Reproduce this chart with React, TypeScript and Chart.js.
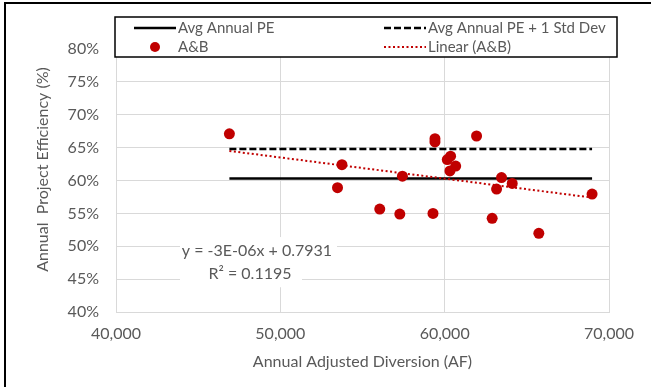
import { useEffect, useRef } from "react";
import { Chart, registerables } from "chart.js";

Chart.register(...registerables);

// ---- data ----
const diversionAF = [46900, 53750, 53480, 56050, 57270, 57430, 59290, 59410, 59410, 60160, 60360, 60320, 60670, 61940, 62890, 63160, 63460, 64110, 65730, 68970];
const efficiency = [0.671, 0.624, 0.589, 0.5565, 0.549, 0.6065, 0.55, 0.6636, 0.6586, 0.6318, 0.637, 0.6146, 0.622, 0.6677, 0.5424, 0.5869, 0.6045, 0.5955, 0.5197, 0.5793];
const lineX = [46900, 68970];
const avgPE = [0.603, 0.603];
const avgPlusSd = [0.648, 0.648];
const trendY = [0.645, 0.574];
const xTickValues = [40000, 50000, 60000, 70000];
const yTickValues = [0.4, 0.45, 0.5, 0.55, 0.6, 0.65, 0.7, 0.75, 0.8];
const seriesLabels = ["Avg Annual PE", "Avg Annual PE + 1 Std Dev", "A&B", "Linear (A&B)"];
const equationLines = ["y = -3E-06x + 0.7931", "R\u00B2 = 0.1195"];
const xTitle = "Annual Adjusted Diversion (AF)";
const yTitle = "Annual  Project Efficiency (%)";

const FONT = "Lato, 'Liberation Sans', sans-serif";
const TEXT = "#595959";
const GRID = "#d9d9d9";
const RED = "#c00000";

const toPts = (xs: number[], ys: number[]) => xs.map((x, i) => ({ x, y: ys[i] }));

const decorPlugin = {
  id: "decor",
  afterDraw(chart: any) {
    const ctx = chart.ctx as CanvasRenderingContext2D;
    const ys = chart.scales.y;
    ctx.save();
    // outer frame (top + left)
    ctx.strokeStyle = "#000";
    ctx.lineWidth = 2;
    ctx.beginPath();
    ctx.moveTo(5, 387);
    ctx.lineTo(5, 3);
    ctx.lineTo(651, 3);
    ctx.stroke();

    // y axis title
    ctx.save();
    ctx.translate(43, 169.5);
    ctx.rotate(-Math.PI / 2);
    ctx.font = `16px ${FONT}`;
    ctx.fillStyle = TEXT;
    ctx.textAlign = "center";
    ctx.textBaseline = "middle";
    ctx.fillText(yTitle, 0, 0);
    ctx.restore();

    // trendline equation label
    const y50 = ys.getPixelForValue(0.5);
    ctx.fillStyle = "#fff";
    ctx.fillRect(180, y50 - 9, 157, 25);
    ctx.fillRect(180, y50 - 9, 122, 50);
    ctx.font = `16px ${FONT}`;
    ctx.textAlign = "center";
    ctx.textBaseline = "middle";
    ctx.fillStyle = TEXT;
    ctx.fillText(equationLines[0], 257, y50 + 5);
    ctx.fillText(equationLines[1], 250, y50 + 28);

    // legend
    const lx0 = 115, ly0 = 17, lx1 = 617, ly1 = 57;
    ctx.fillStyle = "#fff";
    ctx.fillRect(lx0, ly0, lx1 - lx0, ly1 - ly0);
    ctx.strokeStyle = "#000";
    ctx.lineWidth = 1.5;
    ctx.strokeRect(lx0, ly0, lx1 - lx0, ly1 - ly0);
    const ds = chart.data.datasets;
    const items = [
      { ds: ds[0], x: 134, y: 28 },
      { ds: ds[1], x: 384, y: 28 },
      { ds: ds[2], x: 134, y: 47 },
      { ds: ds[3], x: 384, y: 47 },
    ];
    ctx.font = `15px ${FONT}`;
    ctx.textAlign = "left";
    ctx.textBaseline = "middle";
    for (const it of items) {
      const d = it.ds;
      if (d.showLine) {
        ctx.strokeStyle = d.borderColor;
        ctx.lineWidth = d.borderWidth;
        ctx.setLineDash(d.borderDash || []);
        ctx.beginPath();
        ctx.moveTo(it.x, it.y);
        ctx.lineTo(it.x + 42, it.y);
        ctx.stroke();
        ctx.setLineDash([]);
      } else {
        ctx.fillStyle = d.backgroundColor;
        ctx.beginPath();
        ctx.arc(it.x + 21, it.y, 5, 0, Math.PI * 2);
        ctx.fill();
      }
      ctx.fillStyle = TEXT;
      ctx.fillText(d.label, it.x + 44, it.y);
    }
    ctx.restore();
  },
};

export default function App() {
  const ref = useRef<HTMLCanvasElement>(null);
  useEffect(() => {
    document.body.style.margin = "0";
    const chart = new Chart(ref.current!, {
      type: "scatter",
      data: {
        datasets: [
          {
            label: seriesLabels[0],
            data: toPts(lineX, avgPE),
            showLine: true,
            borderColor: "#000",
            borderWidth: 2.5,
            pointRadius: 0,
            order: 3,
          },
          {
            label: seriesLabels[1],
            data: toPts(lineX, avgPlusSd),
            showLine: true,
            borderColor: "#000",
            borderWidth: 2.5,
            borderDash: [7, 3],
            pointRadius: 0,
            order: 2,
          },
          {
            label: seriesLabels[2],
            data: toPts(diversionAF, efficiency),
            showLine: false,
            backgroundColor: RED,
            borderColor: RED,
            borderWidth: 0,
            pointRadius: 5.5,
            order: 0,
          },
          {
            label: seriesLabels[3],
            data: toPts(lineX, trendY),
            showLine: true,
            borderColor: RED,
            borderWidth: 2,
            borderDash: [2, 2.5],
            pointRadius: 0,
            order: 1,
          },
        ] as any,
      },
      options: {
        animation: false,
        responsive: false,
        layout: { padding: { top: 49, right: 42, left: 0, bottom: 0 } },
        plugins: { legend: { display: false }, tooltip: { enabled: false } },
        scales: {
          x: {
            type: "linear",
            min: 40000,
            max: 70000,
            afterBuildTicks: (s: any) => {
              s.ticks = xTickValues.map((v) => ({ value: v }));
            },
            afterFit: (s: any) => {
              s.height = 75;
            },
            ticks: {
              color: TEXT,
              font: { family: FONT, size: 16 },
              padding: 12,
              callback: (v: any) => Number(v).toLocaleString("en-US"),
            },
            grid: { color: GRID, drawTicks: false },
            border: { color: GRID },
            title: {
              display: true,
              text: xTitle,
              color: TEXT,
              font: { family: FONT, size: 16 },
              padding: { top: 0, bottom: 16 },
            },
          },
          y: {
            type: "linear",
            min: 0.4,
            max: 0.8,
            afterBuildTicks: (s: any) => {
              s.ticks = yTickValues.map((v) => ({ value: v }));
            },
            afterFit: (s: any) => {
              s.width = 116;
            },
            ticks: {
              color: TEXT,
              font: { family: FONT, size: 16 },
              padding: 17,
              callback: (v: any) => Math.round(Number(v) * 100) + "%",
            },
            grid: { color: GRID, drawTicks: false },
            border: { color: GRID },
            title: { display: false },
          },
        },
      },
      plugins: [decorPlugin],
    });
    return () => chart.destroy();
  }, []);
  return <canvas ref={ref} width={651} height={387} style={{ display: "block" }} />;
}
